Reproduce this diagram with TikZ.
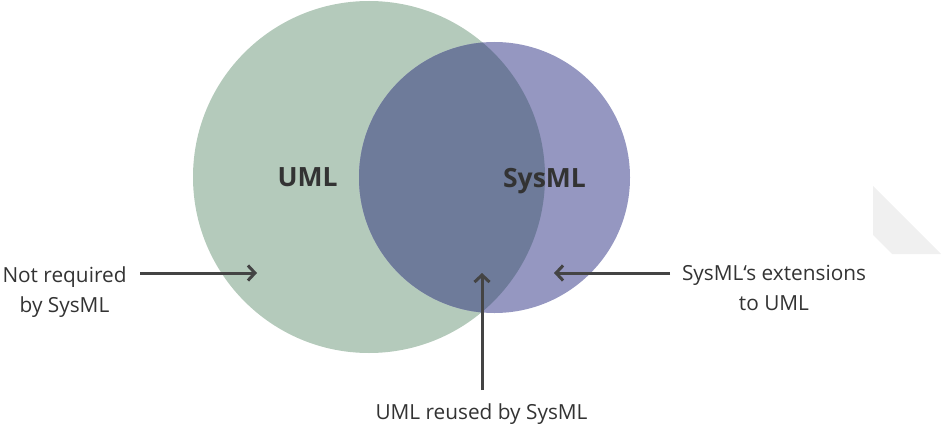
\documentclass[tikz,border=0pt]{standalone}
\usepackage{fontspec}
\setmainfont{Open Sans}
\usetikzlibrary{arrows.meta}
\definecolor{umlgreen}{RGB}{180,202,187}
\definecolor{sysblue}{RGB}{149,151,193}
\definecolor{overlapc}{RGB}{110,123,154}
\definecolor{txt}{RGB}{51,51,51}
\definecolor{arr}{RGB}{68,68,68}
\definecolor{ghost}{RGB}{240,240,240}
\begin{document}
\begin{tikzpicture}[x=1pt,y=-1pt,
  lbl/.style={font=\fontsize{20.8}{30}\selectfont, text=txt, align=center, inner sep=0pt},
  setlbl/.style={font=\fontsize{26.5}{30}\selectfont\bfseries, text=txt, inner sep=0pt},
  pointer/.style={draw=arr, line width=3pt, -{Straight Barb[length=7pt,width=15pt]}}
]
\path[use as bounding box] (0,0) rectangle (942,428);
% faint artefact at right edge
\fill[ghost] (873,186) -- (941,254) -- (892,254) -- (873,235) -- cycle;
% circles
\fill[umlgreen] (369,177) circle[radius=176pt];
\fill[sysblue] (494.5,177.5) circle[radius=135.5pt];
\begin{scope}
  \clip (369,177) circle[radius=176pt];
  \fill[overlapc] (494.5,177.5) circle[radius=135.5pt];
\end{scope}
% set labels
\node[setlbl, anchor=base] (uml) at (307.5,186) {UML};
\node[setlbl, anchor=base] (sysml) at (544.5,187) {SysML};
% callout labels (base anchor = baseline of last line)
\node[lbl, anchor=base] (notreq) at (64.5,312) {Not required\\by SysML};
\node[lbl, anchor=base] (ext) at (774,310) {SysML‘s extensions\\to UML};
\node[lbl, anchor=base] (reuse) at (481.5,419) {UML reused by SysML};
% connector ends
\coordinate (tailL) at (140,273);
\coordinate (tipL) at (257,273);
\coordinate (tailR) at (670,273);
\coordinate (tipR) at (554,273);
\coordinate (tailB) at (482,390);
\coordinate (tipB) at (482,273);
\draw[pointer] (tailL) -- (tipL);
\draw[pointer] (tailR) -- (tipR);
\draw[pointer] (tailB) -- (tipB);
\end{tikzpicture}
\end{document}
